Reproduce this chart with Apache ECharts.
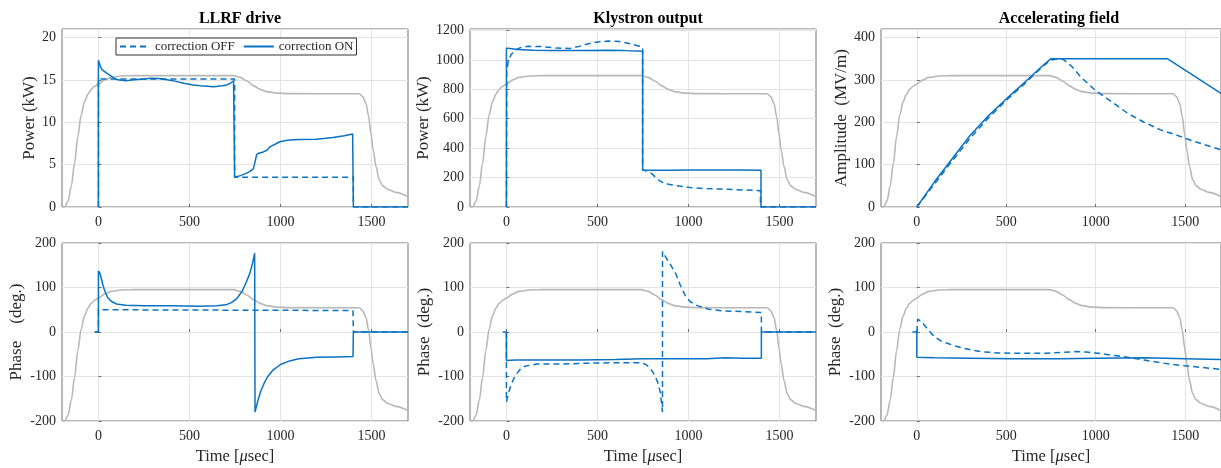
<!DOCTYPE html>
<html>
<head>
<meta charset="utf-8">
<script src="https://cdn.jsdelivr.net/npm/echarts@6/dist/echarts.min.js"></script>
<style>
  html, body { margin: 0; padding: 0; background: #ffffff; }
  #chart { width: 1221px; height: 468px; }
</style>
</head>
<body>
<div id="chart"></div>
<script>
// ---------- data ----------
const titles = ['LLRF drive', 'Klystron output', 'Accelerating field'];
const xTicks = [0, 500, 1000, 1500];
const seriesNames = ['correction OFF', 'correction ON'];

// grey reference envelope (fraction of plot height)
const grayT = [-200, -185, -167, -149, -131, -113, -95, -76, -58, -40, -20, 0, 33, 69, 124, 200, 742, 778, 815, 851, 887, 924, 978, 1051, 1433, 1451, 1469, 1484, 1496, 1509, 1524, 1542, 1560, 1587, 1633, 1700];
const grayV = [0, 0, 0.032, 0.116, 0.246, 0.396, 0.517, 0.592, 0.633, 0.661, 0.678, 0.691, 0.713, 0.728, 0.736, 0.738, 0.738, 0.728, 0.708, 0.682, 0.661, 0.648, 0.640, 0.637, 0.636, 0.620, 0.583, 0.508, 0.415, 0.321, 0.228, 0.153, 0.120, 0.100, 0.082, 0.058];

// LLRF drive power (kW)
const drvPowOnT = [0, 0, 5, 12, 20, 30, 45, 60, 80, 105, 150, 196, 250, 287, 330, 378, 420, 469, 520, 560, 633, 680, 705, 725, 742, 748, 748, 780, 814, 833, 850, 860, 869, 880, 905, 925, 942, 970, 996, 1030, 1051, 1100, 1196, 1250, 1287, 1350, 1396, 1400, 1400, 1700];
const drvPowOnV = [0, 17.3, 17.0, 16.5, 16.2, 16.0, 15.8, 15.6, 15.3, 15.0, 14.9, 15.0, 15.1, 15.2, 15.15, 15.0, 14.85, 14.6, 14.4, 14.3, 14.2, 14.3, 14.4, 14.6, 14.9, 15.0, 3.5, 3.7, 4.0, 4.2, 4.5, 5.3, 6.2, 6.35, 6.5, 6.7, 7.1, 7.4, 7.7, 7.85, 7.9, 7.95, 8.0, 8.1, 8.2, 8.4, 8.6, 8.6, 0, 0];
const drvPowOffT = [0, 0, 748, 748, 1400, 1400, 1700];
const drvPowOffV = [0, 15.1, 15.1, 3.5, 3.5, 0, 0];

// Klystron output power (kW)
const klyPowOnT = [0, 0, 20, 60, 150, 250, 350, 450, 550, 650, 748, 748, 800, 900, 1000, 1100, 1200, 1300, 1398, 1398, 1700];
const klyPowOnV = [0, 1080, 1078, 1070, 1066, 1064, 1063, 1064, 1065, 1063, 1058, 252, 250, 250, 251, 251, 252, 251, 250, 0, 0];
const klyPowOffT = [0, 2, 10, 25, 50, 80, 120, 200, 280, 350, 400, 450, 500, 560, 620, 680, 730, 748, 748, 770, 800, 820, 840, 860, 890, 950, 1020, 1100, 1200, 1300, 1395, 1395, 1700];
const klyPowOffV = [0, 920, 990, 1035, 1068, 1085, 1092, 1090, 1080, 1078, 1092, 1110, 1122, 1128, 1125, 1110, 1093, 1085, 252, 245, 225, 200, 180, 165, 155, 142, 130, 125, 121, 116, 111, 0, 0];

// Accelerating field amplitude (MV/m)
const fldAmpOnT = [0, 100, 200, 300, 400, 500, 600, 700, 750, 1400, 1700];
const fldAmpOnV = [0, 60, 115, 170, 215, 255, 293, 332, 350, 350, 268];
const fldAmpOffT = [0, 100, 200, 300, 400, 500, 600, 700, 750, 800, 820, 868, 920, 996, 1100, 1179, 1270, 1362, 1450, 1500, 1600, 1700];
const fldAmpOffV = [0, 55, 110, 163, 210, 252, 290, 330, 347, 350, 348, 331, 305, 276, 245, 221, 200, 182, 170, 162, 148, 135];

// LLRF drive phase (deg.)
const drvPhOnT = [-20, 0, 0, 8, 15, 25, 35, 50, 70, 100, 150, 250, 400, 550, 650, 700, 730, 760, 790, 810, 830, 845, 858, 860, 875, 890, 910, 930, 960, 1000, 1050, 1100, 1200, 1300, 1398, 1400, 1700];
const drvPhOnV = [0, 0, 137, 132, 122, 105, 92, 78, 69, 63, 60, 59, 59, 58, 59, 61, 66, 75, 92, 110, 130, 152, 177, -180, -155, -135, -115, -100, -85, -73, -65, -60, -57, -56, -55, 0, 0];
const drvPhOffT = [-20, 0, 0, 400, 800, 1200, 1398, 1400, 1700];
const drvPhOffV = [0, 0, 50, 49.5, 49, 48.5, 48, 0, 0];

// Klystron output phase (deg.)
const klyPhOnT = [-20, 0, 0, 50, 200, 400, 600, 750, 900, 1100, 1200, 1300, 1400, 1400, 1700];
const klyPhOnV = [0, 0, -64, -63, -63, -63, -62, -60, -60, -60, -58, -59, -59, 0, 0];
const klyPhOffT = [0, 0, 10, 22, 40, 58, 80, 100, 167, 300, 450, 600, 740, 770, 790, 810, 830, 845, 857, 857, 875, 900, 929, 955, 984, 1010, 1038, 1080, 1111, 1201, 1300, 1400, 1400, 1700];
const klyPhOffV = [0, -157, -140, -123, -105, -93, -82, -77, -72, -72, -70, -69, -69, -74, -82, -94, -112, -135, -180, 181, 168, 152, 132, 105, 80, 68, 61, 55, 51, 47, 46, 44, 0, 0];

// Accelerating field phase (deg.)
const fldPhOnT = [-25, 0, 0, 100, 300, 540, 800, 1000, 1274, 1500, 1700];
const fldPhOnV = [0, 0, -57, -58, -59, -60, -60, -59, -58, -60, -62];
const fldPhOffT = [0, 5, 15, 27, 45, 64, 80, 101, 130, 174, 220, 265, 310, 356, 450, 539, 640, 722, 800, 887, 950, 996, 1040, 1088, 1130, 1179, 1270, 1362, 1430, 1500, 1600, 1700];
const fldPhOffV = [0, 29, 27, 23, 14, 5, -3, -11, -19, -26, -32, -37, -41, -44, -47, -48, -48, -48, -46, -44, -45, -47, -49, -52, -54, -57, -63, -69, -73, -76, -80, -84];

// axis settings per panel
const yMin = [0, 0, 0, -200, -200, -200];
const yMax = [21, 1210, 420, 200, 200, 200];
const yStep = [5, 200, 100, 100, 100, 100];
const yNames = ['Power (kW)', 'Power (kW)', 'Amplitude  (MV/m)', 'Phase    (deg.)', 'Phase  (deg.)', 'Phase  (deg.)'];

// ---------- layout / style ----------
const BLUE = '#0A72C2';
const GRAY = '#B8B8B8';
const TXT = '#262626';
const FONT = '"Liberation Serif", "Times New Roman", serif';
const gridLeft = [62, 470, 881];
const gridTop = [29, 243];
const GW = 346, GH = 178;
const yNameGap = [23, 36.5, 30.5, 37, 36.5, 37];

function pts(t, v) { return t.map((x, i) => [x, v[i]]); }
const plain = v => String(v);

const panels = [
  [drvPowOffT, drvPowOffV, drvPowOnT, drvPowOnV],
  [klyPowOffT, klyPowOffV, klyPowOnT, klyPowOnV],
  [fldAmpOffT, fldAmpOffV, fldAmpOnT, fldAmpOnV],
  [drvPhOffT, drvPhOffV, drvPhOnT, drvPhOnV],
  [klyPhOffT, klyPhOffV, klyPhOnT, klyPhOnV],
  [fldPhOffT, fldPhOffV, fldPhOnT, fldPhOnV]
];

const grid = [], xAxis = [], yAxis = [], series = [];
for (let i = 0; i < 6; i++) {
  const row = Math.floor(i / 3), col = i % 3;
  grid.push({
    left: gridLeft[col], top: gridTop[row], width: GW, height: GH,
    show: true, borderColor: '#6e6e6e', borderWidth: 1, backgroundColor: '#ffffff'
  });
  xAxis.push({
    type: 'value', gridIndex: i, min: -200, max: 1700,
    axisLine: { show: false },
    axisTick: { show: true, inside: true, length: 3, customValues: xTicks, lineStyle: { color: '#6e6e6e' } },
    axisLabel: { customValues: xTicks, formatter: plain, color: TXT, fontFamily: FONT, fontSize: 14, margin: 8 },
    splitLine: { show: true, lineStyle: { color: '#e4e4e4', width: 1 } },
    name: row === 1 ? '{a|Time [}{b|μ}{a|sec]}' : '',
    nameLocation: 'middle', nameGap: 27,
    nameTextStyle: {
      rich: {
        a: { fontFamily: FONT, fontSize: 16.5, color: TXT },
        b: { fontFamily: FONT, fontSize: 16.5, color: TXT, fontStyle: 'italic' }
      }
    }
  });
  yAxis.push({
    type: 'value', gridIndex: i, min: yMin[i], max: yMax[i], interval: yStep[i],
    axisLine: { show: false },
    axisTick: { show: true, inside: true, length: 3, lineStyle: { color: '#6e6e6e' } },
    axisLabel: { formatter: plain, color: TXT, fontFamily: FONT, fontSize: 14, margin: 6, showMaxLabel: yMax[i] % yStep[i] === 0 },
    splitLine: { show: true, lineStyle: { color: '#e4e4e4', width: 1 } },
    name: yNames[i], nameLocation: 'middle', nameGap: yNameGap[i],
    nameTextStyle: { fontFamily: FONT, fontSize: 17, color: TXT }
  });
}
// hidden 0..1 axes for the grey envelope
for (let i = 0; i < 6; i++) {
  yAxis.push({ type: 'value', gridIndex: i, min: 0, max: 1, show: false, splitLine: { show: false } });
}

for (let i = 0; i < 6; i++) {
  const p = panels[i];
  series.push({
    type: 'line', name: 'envelope', xAxisIndex: i, yAxisIndex: 6 + i,
    data: pts(grayT, grayV), symbol: 'none', smooth: 0.3, smoothMonotone: 'x',
    lineStyle: { color: GRAY, width: 1.6 }, silent: true, z: 1
  });
  series.push({
    type: 'line', name: seriesNames[0], xAxisIndex: i, yAxisIndex: i,
    data: pts(p[0], p[1]), symbol: 'none',
    lineStyle: { color: BLUE, width: 1.5, type: [6, 4] }, itemStyle: { color: BLUE }, z: 2
  });
  series.push({
    type: 'line', name: seriesNames[1], xAxisIndex: i, yAxisIndex: i,
    data: pts(p[2], p[3]), symbol: 'none',
    lineStyle: { color: BLUE, width: 1.5 }, itemStyle: { color: BLUE }, z: 3
  });
}

const colCenters = gridLeft.map(l => l + GW / 2);
const option = {
  animation: false,
  backgroundColor: '#ffffff',
  title: titles.map((t, k) => ({
    text: t, left: colCenters[k], top: 6, textAlign: 'center',
    textStyle: { fontFamily: FONT, fontSize: 16, fontWeight: 'bold', color: '#000000' }
  })),
  legend: {
    data: seriesNames, left: 116, top: 38, orient: 'horizontal',
    itemWidth: 30, itemHeight: 12, itemGap: 8,
    padding: [2, 3], borderColor: '#333333', borderWidth: 1, backgroundColor: '#ffffff',
    itemStyle: { color: 'rgba(0,0,0,0)', borderWidth: 0, opacity: 0 },
    textStyle: { fontFamily: FONT, fontSize: 13, color: TXT },
    z: 10
  },
  grid, xAxis, yAxis, series
};

const chart = echarts.init(document.getElementById('chart'), null, { renderer: 'canvas' });
chart.setOption(option);
</script>
</body>
</html>
